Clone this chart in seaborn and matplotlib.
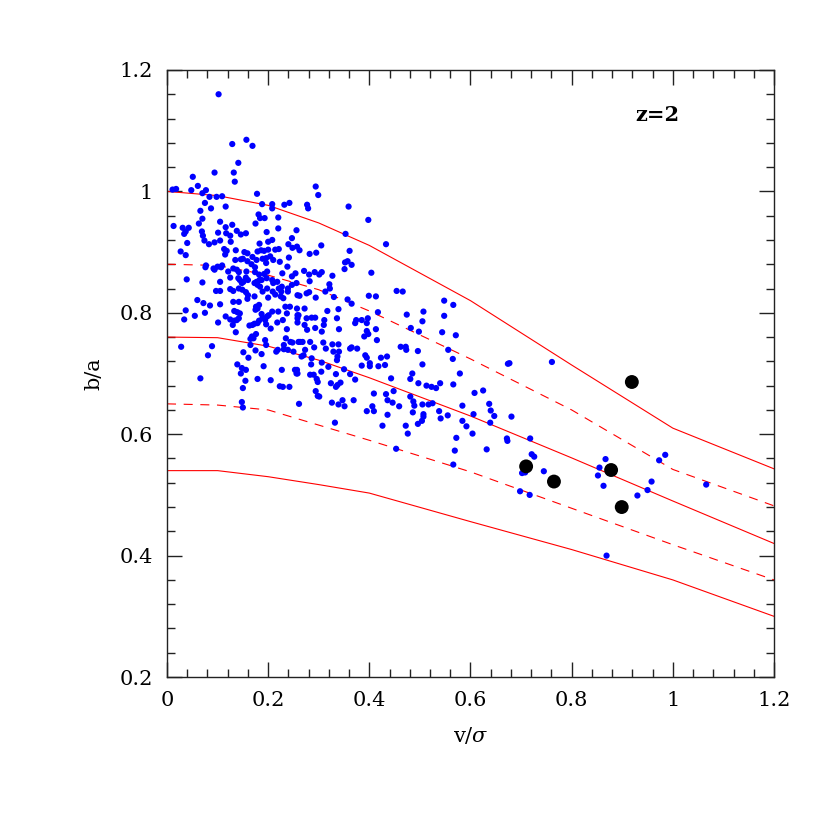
import numpy as np
import pandas as pd
import matplotlib
matplotlib.use('Agg')
import matplotlib.pyplot as plt
from matplotlib.ticker import MultipleLocator
import seaborn as sns

# blue points: galaxies (v/sigma, b/a)
blue_x = [0.102, 0.157, 0.169, 0.129, 0.141, 0.094, 0.132, 0.134, 0.051, 0.011, 0.018, 0.048, 0.061, 0.070, 0.077,
          0.084, 0.098, 0.109, 0.075, 0.087, 0.116, 0.066, 0.070, 0.063, 0.013, 0.031, 0.043, 0.037, 0.034, 0.069,
          0.071, 0.105, 0.101, 0.116, 0.117, 0.129, 0.125, 0.138, 0.146, 0.156, 0.178, 0.188, 0.208, 0.208, 0.232,
          0.242, 0.181, 0.184, 0.193, 0.175, 0.220, 0.220, 0.197, 0.256, 0.247,
          0.040, 0.074, 0.083, 0.094, 0.105, 0.126, 0.113, 0.118, 0.115, 0.136, 0.153, 0.159, 0.169, 0.183, 0.179,
          0.186, 0.200, 0.208, 0.200, 0.214, 0.221, 0.192, 0.204, 0.241, 0.248, 0.257, 0.146, 0.135, 0.150, 0.159,
          0.177, 0.189, 0.196, 0.210, 0.223, 0.240, 0.027, 0.037,
          0.077, 0.076, 0.092, 0.094, 0.100, 0.107, 0.109, 0.121, 0.131, 0.138, 0.142, 0.157, 0.167, 0.174, 0.174,
          0.182, 0.192, 0.198, 0.228, 0.238, 0.254, 0.196,
          0.039, 0.070, 0.125, 0.141, 0.144, 0.151, 0.148, 0.156, 0.160, 0.173, 0.177, 0.183, 0.187, 0.197, 0.208,
          0.210, 0.218, 0.227, 0.247, 0.256, 0.179, 0.184,
          0.105, 0.097, 0.105, 0.125, 0.131, 0.142, 0.149, 0.156, 0.160, 0.159, 0.131, 0.142, 0.173, 0.189, 0.198,
          0.200, 0.209, 0.214, 0.221, 0.226, 0.230, 0.239, 0.225, 0.239, 0.247, 0.258, 0.060, 0.072, 0.085, 0.105,
          0.133, 0.144, 0.176, 0.179, 0.182, 0.175, 0.187, 0.208, 0.220, 0.234, 0.243, 0.257, 0.258, 0.237,
          0.037, 0.034, 0.055, 0.075, 0.101, 0.116, 0.125, 0.130, 0.133, 0.138, 0.142, 0.139, 0.163, 0.169, 0.173,
          0.179, 0.182, 0.189, 0.194, 0.198, 0.201, 0.196, 0.205, 0.218, 0.229, 0.237, 0.258, 0.258, 0.136,
          0.176, 0.168, 0.165, 0.171, 0.165, 0.194, 0.196, 0.175, 0.187, 0.216, 0.219, 0.231, 0.231, 0.239, 0.235,
          0.244, 0.248, 0.260, 0.250, 0.028, 0.089, 0.081, 0.151, 0.161,
          0.139, 0.148, 0.156, 0.146, 0.191, 0.227, 0.257, 0.258, 0.066, 0.155, 0.179, 0.205, 0.223, 0.229, 0.150,
          0.148, 0.150, 0.242,
          0.294, 0.299, 0.277, 0.279, 0.359, 0.398, 0.353, 0.433, 0.262, 0.282, 0.295, 0.305, 0.361, 0.352, 0.357,
          0.365, 0.351, 0.404, 0.271, 0.281, 0.292, 0.301, 0.306, 0.327, 0.282, 0.321, 0.322, 0.313, 0.276, 0.281,
          0.262, 0.294, 0.330, 0.357, 0.365, 0.399, 0.413, 0.454, 0.466,
          0.260, 0.272, 0.276, 0.286, 0.293, 0.317, 0.339, 0.336, 0.311, 0.374, 0.385, 0.397, 0.395, 0.417, 0.474,
          0.507, 0.505, 0.272, 0.277, 0.293, 0.306, 0.310, 0.340, 0.372, 0.395, 0.390, 0.398, 0.413, 0.415, 0.482,
          0.498, 0.263, 0.268, 0.283, 0.273, 0.270, 0.291, 0.309, 0.314, 0.327, 0.339, 0.329, 0.337, 0.340, 0.336,
          0.362, 0.365, 0.376, 0.392, 0.395, 0.423, 0.435, 0.462, 0.472, 0.473, 0.496, 0.266, 0.286, 0.285, 0.306,
          0.319, 0.253, 0.256, 0.283, 0.290, 0.296, 0.298, 0.305, 0.334, 0.350, 0.362, 0.385, 0.401, 0.401, 0.418,
          0.431, 0.443, 0.485, 0.481, 0.497, 0.505, 0.513, 0.523, 0.324, 0.334, 0.337, 0.343, 0.372, 0.409, 0.433,
          0.448, 0.294, 0.298, 0.301, 0.261, 0.326, 0.339, 0.347, 0.351, 0.369, 0.406, 0.395, 0.409, 0.436, 0.446,
          0.459, 0.481, 0.487, 0.489, 0.505, 0.517, 0.525, 0.486, 0.507, 0.507, 0.504, 0.496, 0.436, 0.426, 0.472,
          0.476, 0.332, 0.453,
          0.548, 0.566, 0.548, 0.544, 0.571, 0.556, 0.565, 0.674, 0.677, 0.761, 0.579, 0.532, 0.540, 0.566, 0.608,
          0.625, 0.538, 0.541, 0.555, 0.584, 0.606, 0.637, 0.640, 0.647, 0.639, 0.584, 0.592, 0.604, 0.681, 0.572,
          0.672, 0.673, 0.718, 0.569, 0.632, 0.721,
          0.566, 0.726, 0.702, 0.708, 0.745, 0.698, 0.717,
          0.867, 0.855, 0.852, 0.873, 0.863, 0.973, 0.985, 0.958, 0.950, 0.930, 1.066, 0.869]
blue_y = [1.160, 1.085, 1.075, 1.078, 1.047, 1.031, 1.031, 1.016, 1.024, 1.003, 1.004, 1.002, 1.009, 0.997, 1.002,
          0.991, 0.991, 0.992, 0.981, 0.972, 0.975, 0.968, 0.955, 0.947, 0.943, 0.940, 0.940, 0.934, 0.930, 0.934,
          0.927, 0.950, 0.932, 0.941, 0.931, 0.945, 0.927, 0.935, 0.929, 0.931, 0.996, 0.979, 0.979, 0.972, 0.978,
          0.981, 0.962, 0.956, 0.956, 0.947, 0.957, 0.939, 0.933, 0.936, 0.923,
          0.915, 0.919, 0.913, 0.916, 0.919, 0.917, 0.905, 0.902, 0.896, 0.903, 0.900, 0.898, 0.892, 0.914, 0.901,
          0.903, 0.917, 0.920, 0.904, 0.904, 0.905, 0.902, 0.893, 0.891, 0.907, 0.909, 0.888, 0.887, 0.889, 0.885,
          0.887, 0.889, 0.890, 0.887, 0.884, 0.913, 0.901, 0.895,
          0.878, 0.875, 0.873, 0.871, 0.876, 0.875, 0.878, 0.868, 0.873, 0.871, 0.867, 0.868, 0.880, 0.875, 0.867,
          0.863, 0.864, 0.868, 0.865, 0.876, 0.865, 0.882,
          0.855, 0.850, 0.858, 0.857, 0.854, 0.851, 0.849, 0.858, 0.854, 0.849, 0.851, 0.854, 0.854, 0.857, 0.854,
          0.849, 0.851, 0.843, 0.860, 0.849, 0.846, 0.843,
          0.851, 0.836, 0.836, 0.839, 0.836, 0.840, 0.838, 0.834, 0.829, 0.823, 0.818, 0.818, 0.827, 0.835, 0.840,
          0.825, 0.835, 0.830, 0.840, 0.835, 0.824, 0.835, 0.827, 0.840, 0.846, 0.829, 0.821, 0.816, 0.812, 0.814,
          0.803, 0.799, 0.810, 0.807, 0.813, 0.805, 0.798, 0.802, 0.802, 0.810, 0.810, 0.807, 0.796, 0.799,
          0.804, 0.789, 0.795, 0.800, 0.784, 0.794, 0.789, 0.780, 0.787, 0.788, 0.791, 0.801, 0.779, 0.780, 0.782,
          0.783, 0.787, 0.792, 0.788, 0.794, 0.796, 0.781, 0.774, 0.784, 0.788, 0.773, 0.791, 0.784, 0.768,
          0.765, 0.761, 0.757, 0.758, 0.747, 0.755, 0.747, 0.738, 0.732, 0.736, 0.739, 0.747, 0.740, 0.739, 0.758,
          0.752, 0.751, 0.752, 0.736, 0.744, 0.745, 0.730, 0.735, 0.726,
          0.715, 0.709, 0.706, 0.700, 0.712, 0.706, 0.706, 0.700, 0.692, 0.688, 0.691, 0.689, 0.679, 0.678, 0.676,
          0.653, 0.644, 0.678,
          1.008, 0.994, 0.978, 0.972, 0.975, 0.953, 0.930, 0.913, 0.903, 0.897, 0.899, 0.911, 0.902, 0.883, 0.885,
          0.879, 0.872, 0.866, 0.869, 0.863, 0.867, 0.863, 0.867, 0.861, 0.852, 0.847, 0.840, 0.835, 0.832, 0.834,
          0.828, 0.825, 0.826, 0.822, 0.815, 0.828, 0.827, 0.836, 0.835,
          0.796, 0.807, 0.791, 0.792, 0.792, 0.803, 0.806, 0.791, 0.788, 0.788, 0.788, 0.791, 0.783, 0.801, 0.797,
          0.802, 0.786, 0.780, 0.772, 0.775, 0.769, 0.780, 0.773, 0.783, 0.770, 0.761, 0.765, 0.773, 0.755, 0.775,
          0.769, 0.752, 0.752, 0.752, 0.739, 0.730, 0.743, 0.751, 0.741, 0.748, 0.748, 0.736, 0.728, 0.736, 0.722,
          0.741, 0.743, 0.741, 0.730, 0.726, 0.726, 0.728, 0.744, 0.744, 0.739, 0.737, 0.728, 0.725, 0.715, 0.718,
          0.711, 0.706, 0.700, 0.698, 0.698, 0.691, 0.686, 0.703, 0.699, 0.707, 0.699, 0.713, 0.717, 0.712, 0.712,
          0.714, 0.692, 0.700, 0.691, 0.684, 0.715, 0.680, 0.678, 0.684, 0.678, 0.681, 0.685, 0.690, 0.667, 0.666,
          0.671, 0.671, 0.663, 0.662, 0.650, 0.652, 0.649, 0.656, 0.646, 0.656, 0.646, 0.638, 0.638, 0.656, 0.652,
          0.646, 0.662, 0.654, 0.647, 0.649, 0.649, 0.651, 0.636, 0.633, 0.629, 0.622, 0.617, 0.632, 0.614, 0.614,
          0.601, 0.619, 0.576,
          0.820, 0.813, 0.795, 0.768, 0.763, 0.739, 0.724, 0.716, 0.717, 0.719, 0.700, 0.676, 0.684, 0.682, 0.668,
          0.672, 0.638, 0.626, 0.631, 0.647, 0.633, 0.650, 0.639, 0.630, 0.619, 0.622, 0.613, 0.601, 0.629, 0.594,
          0.593, 0.589, 0.593, 0.573, 0.575, 0.567,
          0.550, 0.563, 0.536, 0.537, 0.539, 0.506, 0.500,
          0.559, 0.545, 0.532, 0.537, 0.515, 0.557, 0.566, 0.522, 0.508, 0.499, 0.517, 0.400]

# black points
black_x = [0.710, 0.765, 0.878, 0.899, 0.919]
black_y = [0.547, 0.522, 0.541, 0.480, 0.686]

# red model curves
curve_x = [0.0, 0.1, 0.2, 0.3, 0.4, 0.6, 0.8, 1.0, 1.2]
curve_1 = [1.000, 0.993, 0.977, 0.948, 0.911, 0.820, 0.714, 0.610, 0.543]
curve_2 = [0.880, 0.878, 0.862, 0.838, 0.803, 0.724, 0.640, 0.542, 0.482]
curve_3 = [0.760, 0.759, 0.745, 0.722, 0.693, 0.630, 0.561, 0.490, 0.420]
curve_4 = [0.650, 0.648, 0.640, 0.615, 0.590, 0.538, 0.478, 0.418, 0.360]
curve_5 = [0.540, 0.540, 0.530, 0.517, 0.503, 0.456, 0.410, 0.360, 0.300]
curve_dashed = [False, True, False, True, False]

xtick_vals = [0, 0.2, 0.4, 0.6, 0.8, 1.0, 1.2]
xtick_labels = ['0', '0.2', '0.4', '0.6', '0.8', '1', '1.2']
ytick_vals = [0.2, 0.4, 0.6, 0.8, 1.0, 1.2]
ytick_labels = ['0.2', '0.4', '0.6', '0.8', '1', '1.2']


def main():
    sns.set_style('ticks')
    plt.rcParams['font.family'] = ['DejaVu Serif']
    plt.rcParams['mathtext.fontset'] = 'dejavuserif'
    plt.rcParams['lines.scale_dashes'] = False
    plt.rcParams['text.color'] = 'black'
    plt.rcParams['axes.labelcolor'] = 'black'

    fig = plt.figure(figsize=(8.3, 8.3), dpi=100)
    ax = fig.add_axes([0.2012, 0.1843, 0.7313, 0.7314])

    # model curves
    curves = [curve_1, curve_2, curve_3, curve_4, curve_5]
    for ys, dashed in zip(curves, curve_dashed):
        ls = (0, (6.5, 5.5)) if dashed else '-'
        sns.lineplot(x=curve_x, y=ys, color='red', linewidth=0.8, linestyle=ls,
                     estimator=None, sort=False, ax=ax)

    # data points
    df = pd.DataFrame({'vs': blue_x, 'ba': blue_y})
    sns.scatterplot(x='vs', y='ba', data=df, color='blue', s=20, linewidth=0,
                    edgecolor='none', ax=ax, zorder=3)
    sns.scatterplot(x=black_x, y=black_y, color='black', s=100, linewidth=0,
                    edgecolor='none', ax=ax, zorder=4)

    ax.set_xlim(0, 1.2)
    ax.set_ylim(0.2, 1.2)
    ax.set_xticks(xtick_vals)
    ax.set_xticklabels(xtick_labels)
    ax.set_yticks(ytick_vals)
    ax.set_yticklabels(ytick_labels)
    ax.xaxis.set_minor_locator(MultipleLocator(0.04))
    ax.yaxis.set_minor_locator(MultipleLocator(0.04))
    ax.tick_params(which='both', direction='in', top=True, right=True,
                   color='#222222', labelcolor='black', width=1.0, labelsize=15, pad=10)
    ax.tick_params(which='major', length=11)
    ax.tick_params(which='minor', length=5.5)
    for sp in ax.spines.values():
        sp.set_visible(True)
        sp.set_linewidth(1.0)
        sp.set_color('#222222')

    ax.set_xlabel(r'v/$\sigma$', fontsize=15, labelpad=11)
    ax.set_ylabel('b/a', fontsize=15, labelpad=12)

    ax.text(0.970, 1.125, 'z=2', fontsize=15, fontweight='bold', ha='center', va='center')

    fig.savefig('out.png', dpi=100)


if __name__ == '__main__':
    main()
